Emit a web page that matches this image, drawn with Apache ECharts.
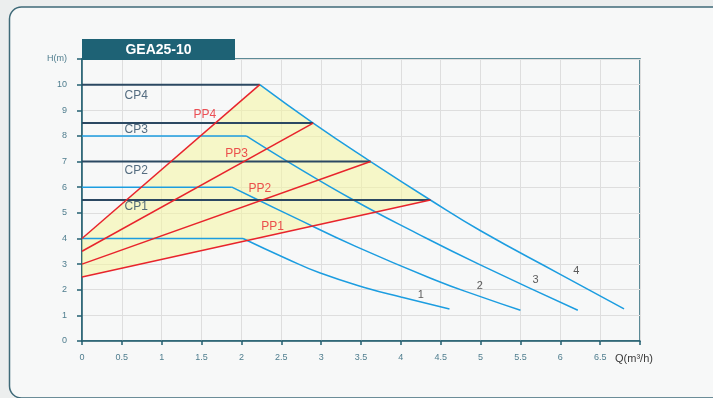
<!DOCTYPE html>
<html>
<head>
<meta charset="utf-8">
<script src="https://cdn.jsdelivr.net/npm/echarts/dist/echarts.min.js"></script>
<style>
  html, body { margin: 0; padding: 0; background: #eceeee; }
  #chart { width: 713px; height: 398px; }
</style>
</head>
<body>
<div id="chart"></div>
<script>
// Pump performance curves for the GEA25-10 circulator.
// Q in m³/h, H in m.

// Fixed-speed curves 1..4 (blue); first two points of 1..3 are the flat limit
const curve1 = [[0, 4], [2.02, 4], [2.56, 3.22], [2.98, 2.66], [3.61, 2.03], [4.0, 1.72], [4.61, 1.25]];
const curve2 = [[0, 6], [1.88, 6], [2.23, 5.47], [2.61, 4.9], [3.44, 3.68], [4.42, 2.39], [4.99, 1.74], [5.5, 1.2]];
const curve3 = [[0, 8], [2.06, 8], [2.58, 7.0], [3.40, 5.51], [4.2, 4.2], [4.99, 2.98], [6.22, 1.2]];
const curve4 = [[2.23, 10], [2.90, 8.5], [3.62, 7.0], [4.37, 5.5], [5.0, 4.3], [6.0, 2.6], [6.80, 1.25]];

// Constant-pressure levels CP1..CP4 and proportional-pressure starts PP1..PP4
const cpNames = ['CP1', 'CP2', 'CP3', 'CP4'];
const cpLevels = [5.5, 7, 8.5, 10];
const cpEnds = [4.37, 3.62, 2.90, 2.23];
const ppNames = ['PP1', 'PP2', 'PP3', 'PP4'];
const ppStarts = [2.5, 3, 3.5, 4];

// Label anchor points
const cpLabelPos = [[0.68, 5.23], [0.68, 6.65], [0.68, 8.24], [0.68, 9.58]];
const ppLabelPos = [[2.39, 4.47], [2.23, 5.93], [1.94, 7.3], [1.54, 8.83]];
const curveNames = ['1', '2', '3', '4'];
const curveLabelPos = [[4.25, 1.81], [4.99, 2.16], [5.69, 2.39], [6.20, 2.74]];

// Axis ranges
const xMax = 7, xStep = 0.5;
const yMax = 11, yStep = 1;
const xUnit = 'Q(m³/h)';
const yUnit = 'H(m)';
const titleText = 'GEA25-10';

const BLUE = '#1c9de0';
const RED = '#e8242c';
const NAVY = '#2b4862';
const TEAL = '#1e6275';
const TICK_TEXT = '#4f7d8e';

// Operating envelope: PP4 up to the top of curve 4, down curve 4 to CP1 end, back along PP1
const envelope = [[0, ppStarts[3]]]
  .concat(curve4.filter(p => p[0] <= cpEnds[0] + 1e-9))
  .concat([[0, ppStarts[0]]]);

const lineBase = { type: 'line', showSymbol: false, symbol: 'none', silent: true, animation: false };

const series = [];

series.push({
  type: 'custom',
  z: 1,
  silent: true,
  animation: false,
  data: [[0, 0]],
  renderItem: function (params, api) {
    return {
      type: 'polygon',
      shape: { points: envelope.map(p => api.coord(p)) },
      style: { fill: 'rgba(246,246,160,0.55)', stroke: null }
    };
  }
});

// Flat part drawn straight, falling part smoothed
[curve1, curve2, curve3].forEach(c => {
  series.push(Object.assign({}, lineBase, {
    z: 2, data: c.slice(0, 2), lineStyle: { color: BLUE, width: 1.5 }
  }));
  series.push(Object.assign({}, lineBase, {
    z: 2, data: c.slice(1), smooth: 0.5,
    lineStyle: { color: BLUE, width: 1.5 }
  }));
});
series.push(Object.assign({}, lineBase, {
  z: 2, data: curve4, smooth: 0.5,
  lineStyle: { color: BLUE, width: 1.5 }
}));

cpLevels.forEach((lvl, i) => {
  series.push(Object.assign({}, lineBase, {
    z: 3, data: [[0, lvl], [cpEnds[i], lvl]], lineStyle: { color: NAVY, width: 2 }
  }));
  series.push(Object.assign({}, lineBase, {
    z: 4, data: [[0, ppStarts[i]], [cpEnds[i], lvl]], lineStyle: { color: RED, width: 1.5 }
  }));
});

function labelSeries(names, pos, color, size) {
  return {
    type: 'scatter',
    z: 6,
    silent: true,
    animation: false,
    symbolSize: 0,
    data: names.map((n, i) => ({ name: n, value: pos[i] })),
    label: {
      show: true,
      position: 'inside',
      formatter: '{b}',
      color: color,
      fontSize: size,
      fontFamily: 'Liberation Sans, Arial, sans-serif'
    }
  };
}
series.push(labelSeries(cpNames, cpLabelPos, NAVY, 12));
series.push(labelSeries(ppNames, ppLabelPos, RED, 12));
series.push(labelSeries(curveNames, curveLabelPos, '#333333', 11));

const chart = echarts.init(document.getElementById('chart'), null, { renderer: 'canvas' });

chart.setOption({
  backgroundColor: '#eceeee',
  animation: false,
  graphic: [
    {
      type: 'rect',
      z: -10,
      shape: { x: 9.5, y: 7, width: 730, height: 391, r: 12 },
      style: { fill: '#f7f8f8', stroke: '#3f6a78', lineWidth: 1.5 }
    },
    {
      type: 'rect',
      z: 10,
      shape: { x: 82, y: 39, width: 153, height: 21 },
      style: { fill: TEAL }
    },
    {
      type: 'text',
      z: 11,
      x: 158.5, y: 50,
      style: {
        text: titleText,
        fill: '#ffffff',
        font: 'bold 14px "Liberation Sans", Arial, sans-serif',
        textAlign: 'center',
        textVerticalAlign: 'middle'
      }
    }
  ],
  grid: {
    left: 82, right: 73, top: 59, bottom: 57,
    show: true,
    borderColor: '#2a6576',
    borderWidth: 1.5,
    backgroundColor: 'transparent'
  },
  xAxis: {
    type: 'value',
    min: 0, max: xMax, interval: xStep,
    axisLine: { show: true, lineStyle: { color: '#235f70', width: 1.5 } },
    axisTick: { show: true, length: 4, lineStyle: { color: '#235f70', width: 1.5 } },
    splitLine: { show: true, lineStyle: { color: '#dedede', width: 1 } },
    axisLabel: {
      margin: 12,
      color: TICK_TEXT,
      fontSize: 9,
      fontFamily: 'Liberation Sans, Arial, sans-serif',
      formatter: function (v) { return v === xMax ? '{u|' + xUnit + '}' : String(v); },
      rich: { u: { color: '#3a3a3a', fontSize: 11, fontFamily: 'Liberation Sans, Arial, sans-serif', padding: [0, 12, 0, 0] } }
    }
  },
  yAxis: {
    type: 'value',
    min: 0, max: yMax, interval: yStep,
    axisLine: { show: true, lineStyle: { color: '#235f70', width: 1.5 } },
    axisTick: { show: true, length: 5, lineStyle: { color: '#235f70', width: 1.5 } },
    splitLine: { show: true, lineStyle: { color: '#dedede', width: 1 } },
    axisLabel: {
      margin: 15,
      color: TICK_TEXT,
      fontSize: 9,
      fontFamily: 'Liberation Sans, Arial, sans-serif',
      formatter: function (v) { return v === yMax ? yUnit : String(v); }
    }
  },
  series: series
});
</script>
</body>
</html>
